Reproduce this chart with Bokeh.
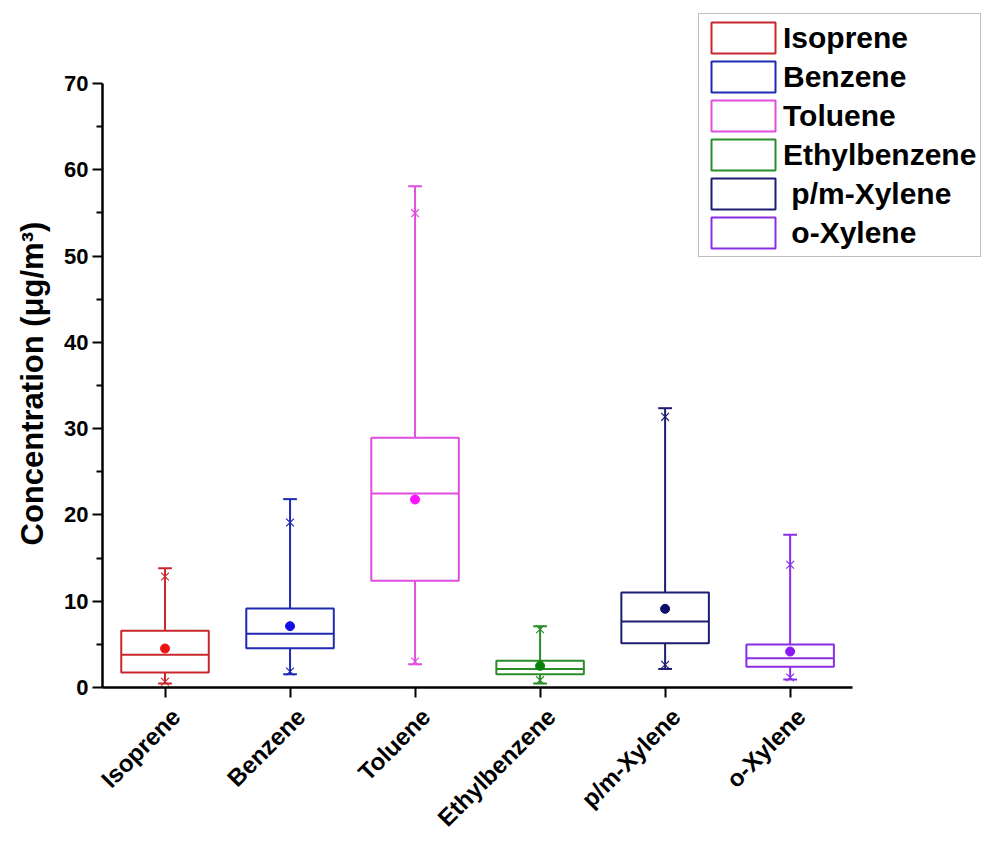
import math

from bokeh.plotting import figure
from bokeh.models import (ColumnDataSource, FixedTicker, Legend, LegendItem,
                          LinearAxis, Range1d, Title)
from bokeh.embed import file_html
from bokeh.resources import INLINE

# VOC concentration statistics (µg/m³)
species = ["Isoprene", "Benzene", "Toluene", "Ethylbenzene", "p/m-Xylene", "o-Xylene"]
legend_labels = ["Isoprene", "Benzene", "Toluene", "Ethylbenzene", "\u00a0p/m-Xylene", "\u00a0o-Xylene"]
whisker_low = [0.45, 1.55, 2.70, 0.47, 2.13, 0.93]
q1 = [1.75, 4.56, 12.36, 1.55, 5.14, 2.40]
median = [3.80, 6.22, 22.48, 2.13, 7.65, 3.40]
q3 = [6.57, 9.16, 28.95, 3.09, 11.01, 4.98]
whisker_high = [13.83, 21.83, 58.10, 7.11, 32.37, 17.69]
mean = [4.52, 7.11, 21.79, 2.51, 9.12, 4.17]
p01 = [0.66, 1.86, 3.01, 0.85, 2.63, 1.16]
p99 = [12.86, 19.12, 54.97, 6.76, 31.37, 14.22]

line_colors = ["#c8282d", "#1f2ab4", "#e04ee0", "#2a8c2a", "#1c1c72", "#8a2ee6"]
mean_colors = ["#ee1111", "#1010e6", "#ff10ff", "#0a800a", "#0c0c6a", "#8a18f4"]

box_w = 0.7
cap_w = 0.11
FONT = "Liberation Sans"

# layout (pixels): the axes span a 751 x 604 area; the data frame is widened
# to the right and upwards so the legend can sit over its top-right corner
W, H = 984, 843
LEFT, TOP, BOTTOM = 101, 13, 156
AXIS_W, AXIS_H = 751, 604
X0, X1 = 0.5, 6.5
Y0, Y1 = 0, 70
frame_w = W - LEFT
frame_h = H - TOP - BOTTOM
x_end = X0 + (X1 - X0) * frame_w / AXIS_W
y_end = Y0 + (Y1 - Y0) * frame_h / AXIS_H

xs = [i + 1 for i in range(len(species))]
src = ColumnDataSource(dict(
    x=xs,
    lo=whisker_low, q1=q1, med=median, q3=q3, hi=whisker_high,
    mean=mean, p01=p01, p99=p99,
    box_l=[x - box_w / 2 for x in xs], box_r=[x + box_w / 2 for x in xs],
    cap_l=[x - cap_w / 2 for x in xs], cap_r=[x + cap_w / 2 for x in xs],
    lc=line_colors, mc=mean_colors,
))

p = figure(width=W, height=H, output_backend="svg", toolbar_location=None,
           x_range=Range1d(X0, x_end), y_range=Range1d(Y0, y_end),
           min_border_left=LEFT, min_border_right=0,
           min_border_top=TOP, min_border_bottom=BOTTOM)
p.outline_line_color = None
p.grid.visible = False

# whiskers
p.segment(x0="x", y0="q3", x1="x", y1="hi", source=src, line_color="lc", line_width=2)
p.segment(x0="x", y0="lo", x1="x", y1="q1", source=src, line_color="lc", line_width=2)
# whisker caps
p.segment(x0="cap_l", y0="hi", x1="cap_r", y1="hi", source=src, line_color="lc", line_width=2)
p.segment(x0="cap_l", y0="lo", x1="cap_r", y1="lo", source=src, line_color="lc", line_width=2)
# boxes
boxes = p.vbar(x="x", width=box_w, bottom="q1", top="q3", source=src,
               fill_color="white", line_color="lc", line_width=2)
# medians
p.segment(x0="box_l", y0="med", x1="box_r", y1="med", source=src, line_color="lc", line_width=2)
# 1st / 99th percentiles
p.scatter(x="x", y="p01", source=src, marker="x", size=11, line_color="lc", line_width=1.2)
p.scatter(x="x", y="p99", source=src, marker="x", size=11, line_color="lc", line_width=1.2)
# means
p.scatter(x="x", y="mean", source=src, marker="circle", size=9, fill_color="mc", line_color="mc")

# x axis: line plus unlabelled tick marks (drawn as minor ticks)
xa = p.xaxis[0]
xa.bounds = (X0, X1)
xa.ticker = FixedTicker(ticks=[], minor_ticks=xs)
xa.axis_line_width = 2.5
xa.axis_line_color = "black"
xa.major_tick_out = 10
xa.major_tick_in = 0
xa.minor_tick_out = 10
xa.minor_tick_in = 0
xa.minor_tick_line_width = 2
xa.minor_tick_line_color = "black"
xa.major_label_standoff = 0

# second below axis carrying the rotated category names, nudged right
shift = 11 * (X1 - X0) / AXIS_W
p.extra_x_ranges = {"names": Range1d(X0 - shift, x_end - shift)}
names_axis = LinearAxis(x_range_name="names", ticker=FixedTicker(ticks=xs),
                        major_label_overrides={x: s for x, s in zip(xs, species)},
                        major_label_orientation=math.pi / 4,
                        axis_line_color=None, major_tick_line_color=None,
                        minor_tick_line_color=None,
                        major_tick_out=0, major_tick_in=0,
                        minor_tick_out=0, minor_tick_in=0,
                        major_label_standoff=15,
                        major_label_text_font=FONT,
                        major_label_text_font_style="bold",
                        major_label_text_font_size="24px",
                        major_label_text_color="black")
p.add_layout(names_axis, "below")

# y axis
ya = p.yaxis[0]
ya.bounds = (Y0, Y1)
ya.ticker = FixedTicker(ticks=list(range(0, 71, 10)), minor_ticks=list(range(5, 70, 10)))
ya.axis_line_width = 2.5
ya.axis_line_color = "black"
ya.major_tick_line_width = 2
ya.major_tick_out = 10
ya.major_tick_in = 0
ya.minor_tick_out = 6
ya.minor_tick_in = 0
ya.minor_tick_line_width = 2
ya.major_label_text_font = FONT
ya.major_label_text_font_style = "bold"
ya.major_label_text_font_size = "22px"
ya.major_label_text_color = "black"
ya.major_label_standoff = 4

# y axis title, laid along the 0-70 span of the axis
y_title = Title(text="Concentration (\u03bcg/m\u00b3)", align="left", offset=142,
                standoff=24, text_font=FONT, text_font_style="bold",
                text_font_size="31px", text_color="black")
p.add_layout(y_title, "left")

items = [LegendItem(label=lab, renderers=[boxes], index=i) for i, lab in enumerate(legend_labels)]
legend = Legend(items=items, location=(596, 430))
legend.glyph_width = 80
legend.glyph_height = 39
legend.label_height = 39
legend.label_standoff = 0
legend.spacing = 0
legend.padding = 4
legend.margin = 0
legend.label_text_font = FONT
legend.label_text_font_style = "bold"
legend.label_text_font_size = "30px"
legend.label_text_baseline = "middle"
legend.label_text_color = "black"
legend.border_line_color = "#808080"
legend.border_line_width = 1.5
legend.background_fill_color = "white"
legend.background_fill_alpha = 1.0
p.add_layout(legend)

open("out.html", "w").write(file_html(p, INLINE))
